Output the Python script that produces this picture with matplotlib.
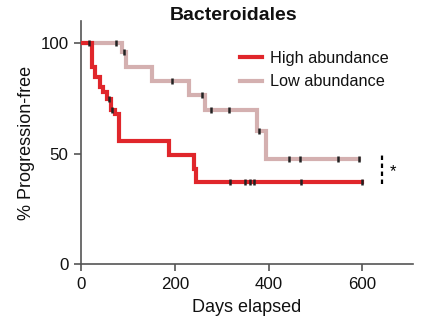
import numpy as np
import matplotlib
matplotlib.use("Agg")
import matplotlib.pyplot as plt

plt.rcParams['font.family'] = ['Liberation Sans', 'DejaVu Sans']

title = "Bacteroidales"
xlabel = "Days elapsed"
ylabel = "% Progression-free"
series_names = ["High abundance", "Low abundance"]

# High abundance (red) KM steps
high_t = [0, 24, 29, 40, 47, 55, 63, 72, 80, 188, 240, 245, 600]
high_s = [100, 89, 84.5, 80, 77.7, 74.5, 69.5, 68, 55.6, 49.5, 43, 37.1, 37.1]
high_cens = [17, 60, 67, 318, 350, 361, 368, 470, 600]

# Low abundance (pink) KM steps
low_t = [0, 87, 97, 151, 231, 265, 375, 395, 593]
low_s = [100, 95.8, 89, 82.9, 76.6, 69.5, 60, 47.6, 47.6]
low_cens = [75, 92, 195, 258, 278, 316, 380, 443, 466, 548, 593]

xticks = [0, 200, 400, 600]
yticks = [0, 50, 100]

red = "#E0262B"
pink = "#D4B0B0"
axis_col = "#555555"

fig = plt.figure(figsize=(4.25, 3.33), dpi=100)
ax = fig.add_axes([81/425, 1-264/333, (413-81)/425, (264-21)/333])

def surv_at(t_arr, s_arr, t):
    idx = np.searchsorted(t_arr, t, side='right') - 1
    return np.array(s_arr)[idx]

ax.plot(low_t, low_s, drawstyle='steps-post', color=pink, lw=3.0,
        solid_joinstyle='miter', label=series_names[1], zorder=2)
ax.plot(high_t, high_s, drawstyle='steps-post', color=red, lw=3.0,
        solid_joinstyle='miter', label=series_names[0], zorder=3)

ax.plot(low_cens, surv_at(low_t, low_s, low_cens), ls='none', marker='|',
        ms=4.5, mew=1.8, color='#222222', zorder=4)
ax.plot(high_cens, surv_at(high_t, high_s, high_cens), ls='none', marker='|',
        ms=4.5, mew=1.8, color='#222222', zorder=4)

# significance bracket
ax.plot([642, 642], [36, 49.5], color='black', lw=1.6, dashes=(2, 1.6))
ax.text(665, 42, "*", fontsize=12, ha='center', va='center')

ax.set_xlim(0, 708)
ax.set_ylim(0, 110)
ax.set_xticks(xticks)
ax.set_yticks(yticks)
ax.tick_params(axis='both', labelsize=12.2, length=5, width=1.2, color=axis_col,
               labelcolor='#111111')
ax.tick_params(axis='x', pad=4.5)
ax.tick_params(axis='y', pad=4)
for side in ['top', 'right']:
    ax.spines[side].set_visible(False)
for side in ['left', 'bottom']:
    ax.spines[side].set_color(axis_col)
    ax.spines[side].set_linewidth(1.2)

ax.set_xlabel(xlabel, fontsize=13, labelpad=5, color='#111111')
ax.set_ylabel(ylabel, fontsize=13, labelpad=4, color='#111111')

handles, labels = ax.get_legend_handles_labels()
order = [1, 0]
leg = ax.legend([handles[i] for i in order], [labels[i] for i in order],
                loc='upper left', bbox_to_anchor=(0.478, 0.876), frameon=False,
                fontsize=11.7, handlelength=1.35, handletextpad=0.5,
                labelspacing=0.5, borderpad=0, borderaxespad=0)
for t in leg.get_texts():
    t.set_color('#111111')

fig.text(234/425, 1-15/333, title, fontsize=14, fontweight='bold',
         ha='center', va='center', color='#111111')

fig.savefig("out.png", dpi=100)
